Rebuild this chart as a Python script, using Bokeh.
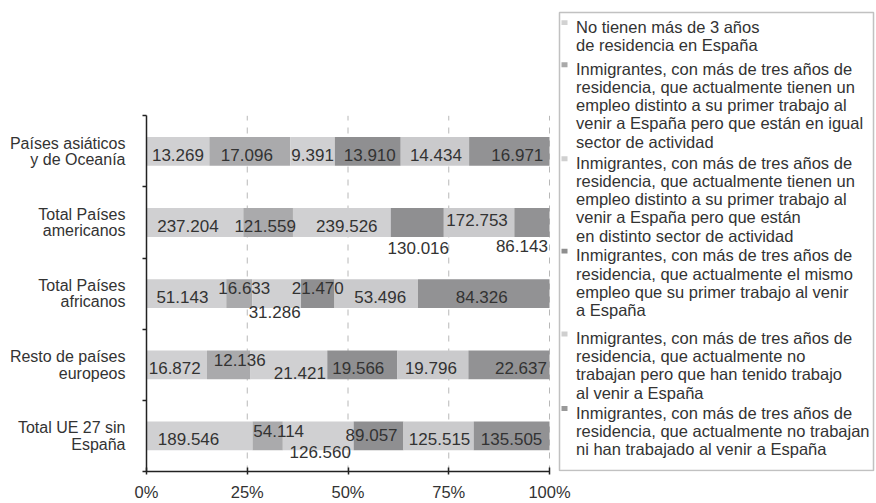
from bokeh.plotting import figure
from bokeh.models import (ColumnDataSource, FixedTicker, NumeralTickFormatter, Label,
                          BoxAnnotation, Range1d)
from bokeh.embed import file_html
from bokeh.resources import INLINE
from bokeh.core.properties import value

# ---------------- data ----------------
categories = ["Países asiáticos\ny de Oceanía", "Total Países\namericanos",
              "Total Países\nafricanos", "Resto de países\neuropeos",
              "Total UE 27 sin\nEspaña"]

s1 = [13269, 237204, 51143, 16872, 189546]
s2 = [17096, 121559, 16633, 12136, 54114]
s3 = [9391, 239526, 31286, 21421, 126560]
s4 = [13910, 130016, 21470, 19566, 89057]
s5 = [14434, 172753, 53496, 19796, 125515]
s6 = [16971, 86143, 84326, 22637, 135505]

series_names = [
    "No tienen más de 3 años\nde residencia en España",
    "Inmigrantes, con más de tres años de\nresidencia, que actualmente tienen un\nempleo distinto a su primer trabajo al\nvenir a España pero que están en igual\nsector de actividad",
    "Inmigrantes, con más de tres años de\nresidencia, que actualmente tienen un\nempleo distinto a su primer trabajo al\nvenir a España pero que están\nen distinto sector de actividad",
    "Inmigrantes, con más de tres años de\nresidencia, que actualmente el mismo\nempleo que su primer trabajo al venir\na España",
    "Inmigrantes, con más de tres años de\nresidencia, que actualmente no\ntrabajan pero que han tenido trabajo\nal venir a España",
    "Inmigrantes, con más de tres años de\nresidencia, que actualmente no trabajan\nni han trabajado al venir a España",
]

x_ticks = [0, 0.25, 0.5, 0.75, 1.0]

# ---------------- styles / layout ----------------
colors = ["#d0d0d2", "#aaaaac", "#d0d0d2", "#8f8f91", "#cacacc", "#929294"]
marker_colors = ["#d2d2d2", "#a9a9a9", "#d0d0d0", "#8e8e8e", "#cfcfcf", "#999999"]

# per-label nudges in px (rows top->bottom, columns = series)
label_dx = [[0, -3, 0, 2, 1, 8],
            [-7, -3, 5, 1, -2, -10],
            [-4, 5, -2, 0, 4, -2],
            [-2, 11, 11, -4, -2, 12],
            [-11, 11, 2, -7, 1, 0]]
label_dy = [[0, 0, 0, 0, 0, 0],
            [0, 0, 0, 22, -6, 20],
            [0, -9, 15, -9, 0, 0],
            [0, -8, 5, 0, 0, 0],
            [0, -8, 13, -4, 0, 0]]

legend_line1_y = [26.7, 69, 163.7, 256.7, 340, 415]   # px (first-line centres)

FONT_NAME = "Liberation Sans"
FONT = value(FONT_NAME)
TXT = "#333333"

W, H = 876, 503
# pixel layout: plot area (0..100%, 5 bands) and whole frame (incl. legend)
X0, X1 = 146, 549          # 0% and 100%
Y0, Y5 = 474, 116          # bottom and top of bands
FL, FR, FT, FB = 146, 875, 10, 474

n = len(categories)
px_x = (X1 - X0)
px_y = (Y0 - Y5) / n
x_end = (FR - X0) / px_x
y_end = (Y0 - FT) / px_y

p = figure(width=W, height=H, output_backend="svg", toolbar_location=None,
           x_range=Range1d(0, x_end), y_range=Range1d(0, y_end),
           min_border_left=FL, min_border_right=W - FR, min_border_top=FT,
           min_border_bottom=H - FB)
p.outline_line_color = None
p.background_fill_color = "white"
p.border_fill_color = "white"
p.xgrid.grid_line_color = None
p.ygrid.grid_line_color = None

series = [s1, s2, s3, s4, s5, s6]
totals = [sum(s[i] for s in series) for i in range(n)]
ys = [n - 0.5 - i for i in range(n)]

# dashed vertical gridlines at the % ticks (within the bands only)
gl = x_ticks[1:]
p.segment(x0=gl, y0=[0] * len(gl), x1=gl, y1=[n] * len(gl), line_color="#b8b8b8",
          line_dash="6 7", line_width=1)

cum = [0.0] * n
sources = []
for k, s in enumerate(series):
    left = [cum[i] for i in range(n)]
    right = [cum[i] + s[i] / totals[i] for i in range(n)]
    cum = right
    src = ColumnDataSource(dict(
        y=ys, left=left, right=right,
        xc=[(l + r) / 2 for l, r in zip(left, right)],
        txt=[f"{v:,}".replace(",", ".") for v in s],
        dx=[label_dx[i][k] for i in range(n)],
        dy=[label_dy[i][k] + 3.5 for i in range(n)],
    ))
    sources.append(src)
    p.hbar(y="y", left="left", right="right", height=0.405, source=src,
           fill_color=colors[k], line_color=None)

for src in sources:
    p.text(x="xc", y="y", text="txt", source=src, x_offset="dx", y_offset="dy",
           text_align="center", text_baseline="middle", text_font=FONT,
           text_font_size="17px", text_color=TXT)

# x axis
xa = p.xaxis[0]
xa.bounds = (0, 1)
xa.ticker = FixedTicker(ticks=x_ticks)
xa.formatter = NumeralTickFormatter(format="0%")
xa.axis_line_color = "#222222"
xa.axis_line_width = 1.5
xa.major_tick_line_color = "#222222"
xa.major_tick_line_width = 1.5
xa.major_tick_in = 4
xa.major_tick_out = 3
xa.minor_tick_line_color = None
xa.major_label_standoff = 8
xa.major_label_text_font = FONT_NAME
xa.major_label_text_font_size = "16.5px"
xa.major_label_text_color = TXT

# y axis
ya = p.yaxis[0]
ya.bounds = (0, n)
ya.ticker = FixedTicker(ticks=ys, minor_ticks=list(range(n + 1)))
ya.major_label_overrides = {y: c for y, c in zip(ys, categories)}
ya.axis_line_color = "#222222"
ya.axis_line_width = 1.5
ya.major_tick_line_color = None
ya.major_tick_in = 0
ya.major_tick_out = 0
ya.minor_tick_line_color = "#222222"
ya.minor_tick_line_width = 1.5
ya.minor_tick_in = 0
ya.minor_tick_out = 4
ya.major_label_standoff = 17
ya.major_label_text_font = FONT_NAME
ya.major_label_text_font_size = "16px"
ya.major_label_text_color = TXT
ya.major_label_text_line_height = 0.97


# ---------------- legend (manual, inside the frame) ----------------
def gx(px):
    return (px - X0) / px_x


def gy(py):
    return (Y0 - py) / px_y


p.add_layout(BoxAnnotation(left=gx(559), right=gx(873), top=gy(12), bottom=gy(473),
                           fill_color=None, fill_alpha=0, line_color="#333333",
                           line_width=1.5, editable=False))
LH = 18.6
LFS = 16.5
for k, name in enumerate(series_names):
    cy = legend_line1_y[k]
    p.add_layout(BoxAnnotation(left=gx(561), right=gx(567), top=gy(cy - 7), bottom=gy(cy - 2),
                               fill_color=marker_colors[k], fill_alpha=1, line_color=None))
    p.add_layout(Label(x=gx(575.5), y=gy(cy - LH / 2), text=name, text_align="left",
                       text_baseline="top", text_font=FONT_NAME, text_font_size=f"{LFS}px",
                       text_line_height=LH / (LFS * 1.117), text_color=TXT))

open("out.html", "w").write(file_html(p, INLINE))
